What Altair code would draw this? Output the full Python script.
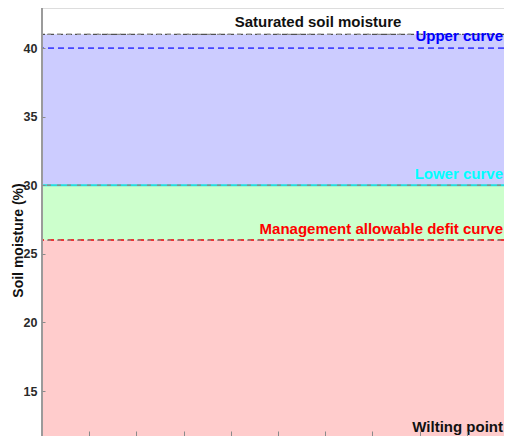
import altair as alt
import pandas as pd

# ---- data ----
zone_names = ["Above upper curve band", "Between lower curve and MAD", "Below MAD"]
zone_low = [30, 26, 11]
zone_high = [41, 30, 26]
zone_colors = ["#ccccff", "#ccffcc", "#ffcccc"]

curve_names = ["Saturated soil moisture", "Upper curve", "Lower curve",
               "Management allowable defit curve"]
curve_values = [41, 40, 30, 26]
curve_colors = ["#505050", "#4646ff", "#22dede", "#ee3333"]
wilting_label = "Wilting point"

y_ticks = [15, 20, 25, 30, 35, 40]
x_ticks = [1, 2, 3, 4, 5, 6, 7, 8, 9]
y_domain = [11.72, 42.92]
x_domain = [0, 9.788]

W, H = 462, 428
FONT = "Liberation Sans"

zones = pd.DataFrame({"zone": zone_names, "lo": zone_low, "hi": zone_high, "color": zone_colors})
curves = pd.DataFrame({"name": curve_names, "value": curve_values, "color": curve_colors})

xs = alt.Scale(domain=x_domain, nice=False, zero=False)
ys = alt.Scale(domain=y_domain, nice=False, zero=False)

base_zone = alt.Chart(zones).mark_rect(clip=True).encode(
    x=alt.X("x0:Q", scale=xs,
            axis=alt.Axis(values=x_ticks, labels=False, domain=False, title=None,
                          grid=False, orient="bottom", offset=-5, tickSize=5,
                          tickColor="#8a8a8a", tickWidth=1, zindex=1)),
    x2="x1:Q",
    y=alt.Y("lo:Q", scale=ys,
            axis=alt.Axis(values=y_ticks, domain=False, grid=False, offset=-3,
                          tickSize=3, tickColor="#8a8a8a", labelFont=FONT,
                          labelFontSize=12.5, labelFontWeight="bold", labelColor="#2a2a2a",
                          labelPadding=5, zindex=1,
                          title="Soil moisture (%)", titleFont=FONT,
                          titleFontSize=14, titleFontWeight="bold", titleColor="#111111",
                          titleAngle=-90, titleAlign="center", titleBaseline="middle",
                          titleX=-27, titleY=232)),
    y2="hi:Q",
    color=alt.Color("color:N", scale=None),
).transform_calculate(x0=str(x_domain[0]), x1=str(x_domain[1]))

def rule(name, dash, width):
    return alt.Chart(curves).transform_filter(alt.datum.name == name).mark_rule(
        strokeDash=dash, strokeWidth=width).encode(
        y=alt.Y("value:Q", scale=ys), color=alt.Color("color:N", scale=None))

upper = rule("Upper curve", [6, 4], 1.7)
lower = rule("Lower curve", [1, 0], 2.2)
mad = rule("Management allowable defit curve", [6, 4], 2.0)
sat = rule("Saturated soil moisture", [6, 3], 1.4)

# gray dashed zone edges
edges = alt.Chart(zones).mark_rule(strokeDash=[4, 6], strokeWidth=1.3, color="#8c8c8c",
                                   strokeDashOffset=7).encode(
    y=alt.Y("hi:Q", scale=ys))

left_line = alt.Chart(zones).mark_rule(color="#9a9a9a", strokeWidth=1.5).encode(
    x=alt.value(0), y=alt.value(0), y2=alt.value(H))

def label(name, color, dx_align, dy, xpos):
    return alt.Chart(curves).transform_filter(alt.datum.name == name).mark_text(
        align=dx_align, baseline="alphabetic", dy=dy, font=FONT, fontSize=15,
        fontWeight="bold", color=color).encode(
        x=alt.value(xpos), y=alt.Y("value:Q", scale=ys), text="name:N")

t_sat = label("Saturated soil moisture", "#111111", "center", -7.5, 276)
t_up = label("Upper curve", "#0000ff", "right", -7.5, W - 1)
t_low = label("Lower curve", "#00ffff", "right", -6.5, W - 1)
t_mad = label("Management allowable defit curve", "#ff0000", "right", -6.5, W - 1)
t_wilt = alt.Chart(pd.DataFrame({"t": [wilting_label]})).mark_text(
    align="right", baseline="alphabetic", font=FONT, fontSize=15, fontWeight="bold",
    color="#111111").encode(x=alt.value(W - 1), y=alt.value(H - 4), text="t:N")

chart = alt.layer(
    base_zone, upper, lower, mad, sat, edges, left_line,
    t_sat, t_up, t_low, t_mad, t_wilt
).properties(
    width=W, height=H,
    autosize=alt.AutoSizeParams(type="none"),
    padding={"left": 34, "top": 0, "right": 0, "bottom": 0},
).configure_view(stroke=None).configure(background="white")

chart.save("out.html", embed_options={"renderer": "svg", "actions": False})
